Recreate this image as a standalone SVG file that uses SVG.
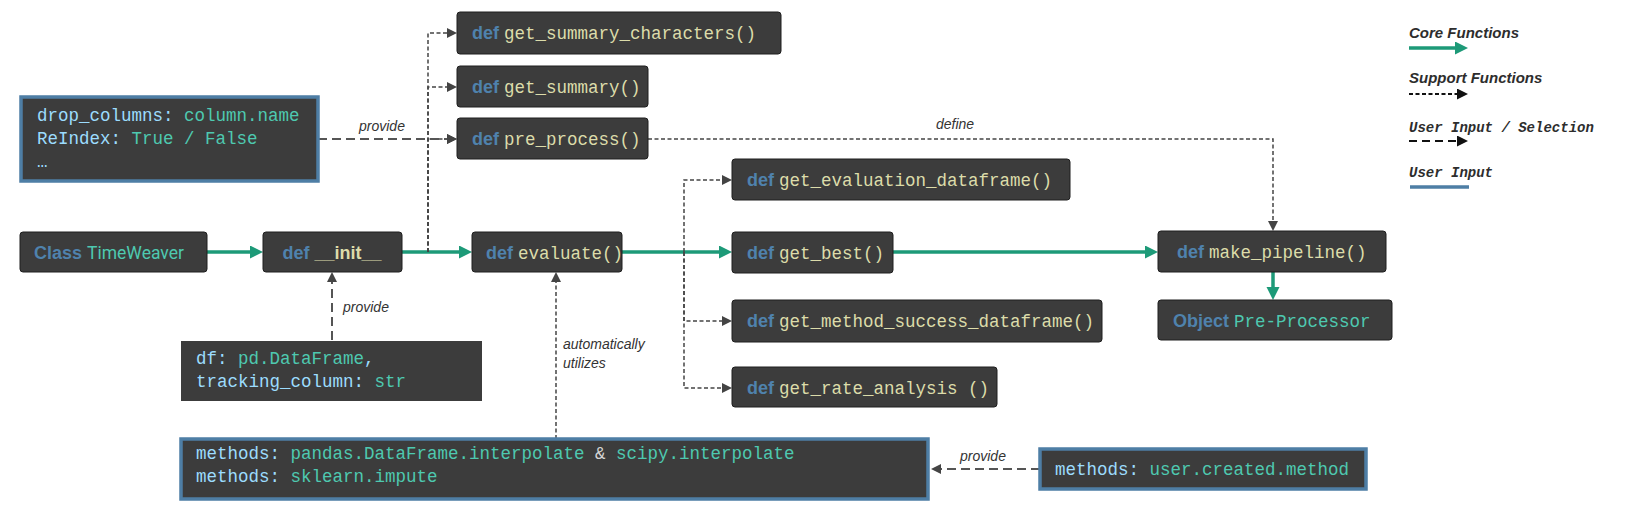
<svg xmlns="http://www.w3.org/2000/svg" width="1626" height="522" viewBox="0 0 1626 522">
<style>
.box{fill:#3c3c3c;stroke:#1e1e1e;stroke-width:1}
.inp{fill:#3c3c3c;stroke:#4e7ea5;stroke-width:3.5}
.plain{fill:#3c3c3c}
.kw{font-family:"Liberation Sans",Arial,sans-serif;font-weight:bold;fill:#4f82ad;font-size:18px}
.fn{font-family:"Liberation Mono","DejaVu Sans Mono",monospace;fill:#dcdcaa;font-size:17.5px}
.ty{font-family:"Liberation Mono","DejaVu Sans Mono",monospace;fill:#4ec9b0;font-size:17.5px}
.va{font-family:"Liberation Mono","DejaVu Sans Mono",monospace;fill:#9cdcfe;font-size:17.5px}
.op{font-family:"Liberation Mono","DejaVu Sans Mono",monospace;fill:#d4d4d4;font-size:17.5px}
.lbl{font-family:"Liberation Sans",Arial,sans-serif;font-style:italic;fill:#333;font-size:14px}
.leg{font-family:"Liberation Sans",Arial,sans-serif;font-style:italic;font-weight:bold;fill:#2d2d2d;font-size:15px}
.legm{font-family:"Liberation Mono",monospace;font-style:italic;font-weight:bold;fill:#2d2d2d;font-size:14px}
.core{fill:none;stroke:#1d9a78;stroke-width:3.5}
.sup{fill:none;stroke:#444;stroke-width:1.5;stroke-dasharray:4 2.5}
.uin{fill:none;stroke:#555;stroke-width:2;stroke-dasharray:9 5}
</style>
<defs>
<marker id="ag" markerUnits="userSpaceOnUse" markerWidth="14" markerHeight="14" refX="0" refY="6.5" orient="auto"><path d="M0,0 L13,6.5 L0,13 z" fill="#1d9a78"/></marker>
<marker id="ad" markerUnits="userSpaceOnUse" markerWidth="11" markerHeight="11" refX="0" refY="5" orient="auto"><path d="M0,0 L10,5 L0,10 z" fill="#444"/></marker>
<marker id="ak" markerUnits="userSpaceOnUse" markerWidth="12" markerHeight="12" refX="0" refY="5.5" orient="auto"><path d="M0,0 L11,5.5 L0,11 z" fill="#111"/></marker>
</defs>

<g id="connectors">
<path class="core" d="M207 252 H250" marker-end="url(#ag)"/>
<path class="core" d="M402 252 H459" marker-end="url(#ag)"/>
<path class="core" d="M622 252 H719" marker-end="url(#ag)"/>
<path class="core" d="M893 252 H1145" marker-end="url(#ag)"/>
<path class="core" d="M1273 272 V287" marker-end="url(#ag)"/>
<path class="sup" d="M428 252 V33 H447" marker-end="url(#ad)"/>
<path class="sup" d="M428 252 V87 H447" marker-end="url(#ad)"/>
<path class="sup" d="M428 252 V139 H447" marker-end="url(#ad)"/>
<path class="sup" d="M684 252 V180 H722" marker-end="url(#ad)"/>
<path class="sup" d="M684 252 V321 H722" marker-end="url(#ad)"/>
<path class="sup" d="M684 252 V388 H722" marker-end="url(#ad)"/>
<path class="sup" d="M648 139 H1273 V221" marker-end="url(#ad)"/>
<path class="sup" d="M556 439 V282" marker-end="url(#ad)"/>
<path class="uin" d="M318 139 H447" marker-end="url(#ad)"/>
<path class="uin" d="M332 340 V282" marker-end="url(#ad)"/>
<path class="uin" d="M1040 469 H941" marker-end="url(#ad)"/>
<text class="lbl" x="359" y="131">provide</text>
<text class="lbl" x="936" y="129">define</text>
<text class="lbl" x="343" y="312">provide</text>
<text class="lbl" x="563" y="349">automatically</text>
<text class="lbl" x="563" y="368">utilizes</text>
<text class="lbl" x="960" y="461">provide</text>
</g>

<g id="input-drop">
<rect class="inp" x="21" y="97" width="297" height="84"/>
<text x="37" y="121"><tspan class="va">drop_columns: </tspan><tspan class="ty">column.name</tspan></text>
<text x="37" y="144"><tspan class="va">ReIndex: </tspan><tspan class="ty">True / False</tspan></text>
<text x="37" y="167" class="va">…</text>
</g>

<g id="get-summary-characters">
<rect class="box" x="457" y="12" width="324" height="42" rx="3"/>
<text x="472" y="39"><tspan class="kw">def </tspan><tspan class="fn">get_summary_characters()</tspan></text>
</g>
<g id="get-summary">
<rect class="box" x="457" y="66" width="191" height="41" rx="3"/>
<text x="472" y="93"><tspan class="kw">def </tspan><tspan class="fn">get_summary()</tspan></text>
</g>
<g id="pre-process">
<rect class="box" x="457" y="118" width="191" height="41" rx="3"/>
<text x="472" y="145"><tspan class="kw">def </tspan><tspan class="fn">pre_process()</tspan></text>
</g>

<g id="class-timeweaver">
<rect class="box" x="20" y="232" width="187" height="40" rx="3"/>
<text x="34" y="259"><tspan class="kw">Class </tspan><tspan font-family="Roboto,'Liberation Sans',sans-serif" font-size="17.5" fill="#4ec9b0">TimeWeaver</tspan></text>
</g>
<g id="init">
<rect class="box" x="263" y="232" width="139" height="40" rx="3"/>
<text x="332" y="259" text-anchor="middle"><tspan class="kw">def </tspan><tspan class="kw" style="fill:#dcdcaa">__init__</tspan></text>
</g>
<g id="evaluate">
<rect class="box" x="472" y="232" width="150" height="40" rx="3"/>
<text x="486" y="259"><tspan class="kw">def </tspan><tspan class="fn">evaluate()</tspan></text>
</g>

<g id="get-evaluation-dataframe">
<rect class="box" x="732" y="159" width="338" height="41" rx="3"/>
<text x="747" y="186"><tspan class="kw">def </tspan><tspan class="fn">get_evaluation_dataframe()</tspan></text>
</g>
<g id="get-best">
<rect class="box" x="732" y="232" width="161" height="41" rx="3"/>
<text x="747" y="259"><tspan class="kw">def </tspan><tspan class="fn">get_best()</tspan></text>
</g>
<g id="get-method-success-dataframe">
<rect class="box" x="732" y="300" width="370" height="42" rx="3"/>
<text x="747" y="327"><tspan class="kw">def </tspan><tspan class="fn">get_method_success_dataframe()</tspan></text>
</g>
<g id="get-rate-analysis">
<rect class="box" x="732" y="367" width="265" height="40" rx="3"/>
<text x="747" y="394"><tspan class="kw">def </tspan><tspan class="fn">get_rate_analysis ()</tspan></text>
</g>

<g id="make-pipeline">
<rect class="box" x="1158" y="231" width="228" height="41" rx="3"/>
<text x="1177" y="258"><tspan class="kw">def </tspan><tspan class="fn">make_pipeline()</tspan></text>
</g>
<g id="pre-processor">
<rect class="box" x="1158" y="300" width="234" height="40" rx="3"/>
<text x="1173" y="327"><tspan class="kw">Object </tspan><tspan class="ty">Pre-Processor</tspan></text>
</g>

<g id="input-df">
<rect class="plain" x="181" y="341" width="301" height="60"/>
<text x="196" y="364"><tspan class="va">df: </tspan><tspan class="ty">pd.DataFrame</tspan><tspan class="va">,</tspan></text>
<text x="196" y="387"><tspan class="va">tracking_column: </tspan><tspan class="ty">str</tspan></text>
</g>

<g id="input-methods">
<rect class="inp" x="181" y="439" width="747" height="60"/>
<text x="196" y="459"><tspan class="va">methods: </tspan><tspan class="ty">pandas.DataFrame.interpolate</tspan><tspan class="op"> &amp; </tspan><tspan class="ty">scipy.interpolate</tspan></text>
<text x="196" y="482"><tspan class="va">methods: </tspan><tspan class="ty">sklearn.impute</tspan></text>
</g>

<g id="input-user-method">
<rect class="inp" x="1040" y="449" width="326" height="40"/>
<text x="1055" y="475"><tspan class="va">methods: </tspan><tspan class="ty">user.created.method</tspan></text>
</g>

<g id="legend">
<text class="leg" x="1409" y="38">Core Functions</text>
<path class="core" d="M1409 48 H1455" marker-end="url(#ag)"/>
<text class="leg" x="1409" y="83">Support Functions</text>
<path d="M1409 94 H1457" fill="none" stroke="#111" stroke-width="1.8" stroke-dasharray="4 2.5" marker-end="url(#ak)"/>
<text class="legm" x="1409" y="132">User Input / Selection</text>
<path d="M1409 141 H1457" fill="none" stroke="#111" stroke-width="2" stroke-dasharray="8 5" marker-end="url(#ak)"/>
<text class="legm" x="1409" y="177">User Input</text>
<path d="M1410 187 H1469" stroke="#4e7ea5" stroke-width="3.5"/>
</g>
</svg>
